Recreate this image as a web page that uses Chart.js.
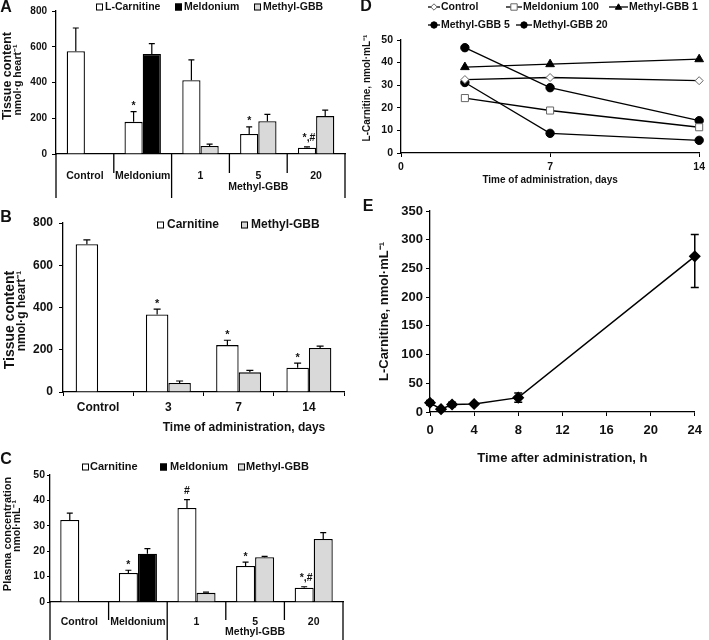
<!DOCTYPE html>
<html><head><meta charset="utf-8">
<script src="https://cdn.jsdelivr.net/npm/chart.js@4.4.1/dist/chart.umd.min.js"></script>
<style>
html,body{margin:0;padding:0;background:#fff;}
#wrap{position:relative;width:709px;height:640px;overflow:hidden;background:#fff;}
canvas{position:absolute;}
</style></head><body>
<div id="wrap">
<canvas id="cA" width="360" height="198" style="left:0;top:0"></canvas>
<canvas id="cB" width="360" height="242" style="left:0;top:198px"></canvas>
<canvas id="cC" width="360" height="200" style="left:0;top:440px"></canvas>
<canvas id="cD" width="349" height="198" style="left:360px;top:0"></canvas>
<canvas id="cE" width="349" height="272" style="left:360px;top:198px"></canvas>
</div>
<script>
// ---------- DATA ----------
// Panel A: tissue content (nmol·g heart^-1)
const aCategories = ['Control', 'Meldonium', '1', '5', '20'];
const aCarnitine = [575, 180, 413, 112, 35];
const aCarnitineErr = [130, 57, 114, 40, 5];
const aMeldonium = [null, 560, null, null, null];
const aMeldoniumErr = [null, 57, null, null, null];
const aMethylGBB = [null, null, 45, 183, 212];
const aMethylGBBErr = [null, null, 10, 39, 33];
const aMarks = ['', '*', '', '*', '*,#'];

// Panel B: tissue content over time
const bCategories = ['Control', '3', '7', '14'];
const bCarnitine = [700, 367, 222, 115];
const bCarnitineErr = [20, 25, 23, 22];
const bMethylGBB = [null, 43, 93, 208];
const bMethylGBBErr = [null, 9, 9, 9];
const bMarks = ['', '*', '*', '*'];

// Panel C: plasma concentration (nmol·mL^-1)
const cCategories = ['Control', 'Meldonium', '1', '5', '20'];
const cCarnitine = [32.3, 11.4, 37, 14.2, 5.6];
const cCarnitineErr = [2.7, 1.1, 3.3, 1.5, 0.4];
const cMeldonium = [null, 19, null, null, null];
const cMeldoniumErr = [null, 2, null, null, null];
const cMethylGBB = [null, null, 3.6, 17.6, 24.8];
const cMethylGBBErr = [null, null, 0.3, 0.4, 2.5];
const cMarks = ['', '*', '#', '*', '*,#'];

// Panel D: L-carnitine vs days
const dDays = [3, 7, 14];
const dControl = [32.5, 33.4, 32];
const dMeldonium100 = [24.3, 18.8, 11.4];
const dMethylGBB1 = [38, 39.3, 41.5];
const dMethylGBB5 = [46.6, 28.9, 14.3];
const dMethylGBB20 = [31.2, 8.7, 5.6];

// Panel E: L-carnitine vs hours
const eHours = [0, 1, 2, 4, 8, 24];
const eCarnitine = [16, 5, 13, 14, 25, 271];
const eErrUp = [4, 2, 4, 2, 8, 38];
const eErrDown = [4, 2, 4, 2, 8, 54];

// ---------- STYLE / HELPERS ----------
const FONT = "'Liberation Sans', Arial, Helvetica, sans-serif";
const INK = '#111';
const GRAY = '#d9d9d9';
Chart.defaults.font.family = FONT;
Chart.defaults.color = INK;
Chart.defaults.animation = false;

function bold(size) { return { family: FONT, size: size, weight: 'bold' }; }

function marker(ctx, style, x, y, r, fill, stroke) {
  ctx.beginPath();
  if (style === 'circle') ctx.arc(x, y, r, 0, Math.PI * 2);
  else if (style === 'rect') ctx.rect(x - r, y - r, 2 * r, 2 * r);
  else if (style === 'rectRot') { ctx.moveTo(x, y - r); ctx.lineTo(x + r, y); ctx.lineTo(x, y + r); ctx.lineTo(x - r, y); ctx.closePath(); }
  else if (style === 'triangle') { ctx.moveTo(x, y - r); ctx.lineTo(x + r, y + r * 0.7); ctx.lineTo(x - r, y + r * 0.7); ctx.closePath(); }
  ctx.fillStyle = fill; ctx.fill();
  ctx.strokeStyle = stroke; ctx.lineWidth = 1; ctx.stroke();
}

const decor = {
  id: 'decor',
  afterDatasetsDraw(chart, args, o) {
    const ctx = chart.ctx, ys = chart.scales.y;
    ctx.save();
    (o.errors || []).forEach(e => {
      const ds = chart.data.datasets[e.ds];
      const meta = chart.getDatasetMeta(e.ds);
      meta.data.forEach((el, i) => {
        const raw = ds.data[i];
        const v = (raw !== null && typeof raw === 'object') ? raw.y : raw;
        if (v === null || v === undefined) return;
        const x = el.x;
        const y0 = ys.getPixelForValue(v);
        let top = y0;
        ctx.strokeStyle = '#000';
        ctx.lineWidth = e.lw;
        const seg = (val) => {
          const y1 = ys.getPixelForValue(val);
          ctx.beginPath(); ctx.moveTo(x, y0); ctx.lineTo(x, y1);
          ctx.moveTo(x - e.cap, y1); ctx.lineTo(x + e.cap, y1); ctx.stroke();
          return y1;
        };
        if (e.up && e.up[i] !== null && e.up[i] !== undefined) top = seg(v + e.up[i]);
        if (e.down && e.down[i] !== null && e.down[i] !== undefined) seg(v - e.down[i]);
        if (e.marks && e.marks[i]) {
          const m = e.marks[i];
          ctx.fillStyle = INK; ctx.font = 'bold ' + e.markSize + 'px ' + FONT;
          ctx.textAlign = 'center'; ctx.textBaseline = 'alphabetic';
          ctx.fillText(m, x + (m.length > 1 ? 2 : 0), top - (m.indexOf('#') >= 0 ? 6 : 2.5));
        }
      });
    });
    ctx.restore();
  },
  afterDraw(chart, args, o) {
    const ctx = chart.ctx;
    ctx.save();
    if (o.dividers) {
      const xs = chart.scales.x, n = chart.data.labels.length, d = o.dividers;
      const bx = [];
      for (let i = 0; i <= n; i++) {
        bx.push(i === 0 ? xs.left : i === n ? xs.right : (xs.getPixelForTick(i - 1) + xs.getPixelForTick(i)) / 2);
      }
      ctx.strokeStyle = '#000'; ctx.lineWidth = 1.3;
      d.long.forEach((lg, i) => {
        ctx.beginPath(); ctx.moveTo(bx[i], xs.top); ctx.lineTo(bx[i], lg ? d.longTo : d.shortTo); ctx.stroke();
      });
      ctx.fillStyle = INK; ctx.font = 'bold ' + d.size + 'px ' + FONT;
      ctx.textAlign = 'center'; ctx.textBaseline = 'middle';
      ctx.fillText(d.group, (bx[d.from] + bx[d.to]) / 2, d.groupY);
    }
    (o.texts || []).forEach(t => {
      ctx.save();
      ctx.translate(t.x, t.y);
      if (t.rot) ctx.rotate(t.rot * Math.PI / 180);
      ctx.fillStyle = INK; ctx.font = 'bold ' + t.size + 'px ' + FONT;
      ctx.textAlign = 'center'; ctx.textBaseline = 'middle';
      ctx.fillText(t.text, 0, 0);
      ctx.restore();
    });
    if (o.legend) {
      const L = o.legend;
      ctx.font = 'bold ' + L.size + 'px ' + FONT;
      ctx.textBaseline = 'middle'; ctx.textAlign = 'left';
      L.items.forEach(it => {
        const ds = chart.data.datasets[it.ds];
        if (L.kind === 'box') {
          ctx.fillStyle = ds.backgroundColor;
          ctx.fillRect(it.x, it.y - L.box / 2, L.box, L.box);
          ctx.strokeStyle = '#000'; ctx.lineWidth = 1;
          ctx.strokeRect(it.x + 0.5, it.y - L.box / 2 + 0.5, L.box - 1, L.box - 1);
          ctx.fillStyle = INK; ctx.fillText(ds.label, it.tx, it.y);
        } else {
          ctx.strokeStyle = ds.borderColor; ctx.lineWidth = ds.borderWidth;
          ctx.beginPath(); ctx.moveTo(it.x, it.y); ctx.lineTo(it.x + it.len, it.y); ctx.stroke();
          marker(ctx, ds.pointStyle, it.x + it.len / 2, it.y, L.r, ds.pointBackgroundColor, ds.pointBorderColor);
          ctx.fillStyle = INK; ctx.fillText(ds.label, it.x + it.len + 1, it.y);
        }
      });
    }
    ctx.restore();
  }
};

function yAxis(min, max, step, size, width, tl, pad) {
  return {
    min: min, max: max,
    ticks: { stepSize: step, font: bold(size), color: INK, padding: pad },
    grid: { display: true, drawOnChartArea: false, drawTicks: true, tickLength: tl, color: '#000', lineWidth: 1 },
    border: { display: true, color: '#000', width: 1.3 },
    afterFit: s => { s.width = width; }
  };
}
function bar(label, data, fill, stack) {
  return { label: label, data: data, backgroundColor: fill, borderColor: '#000', borderWidth: 1.3, stack: stack };
}
const common = { responsive: false, maintainAspectRatio: false, animation: false, devicePixelRatio: 1 };

// ---------- PANEL A ----------
new Chart(document.getElementById('cA'), {
  type: 'bar',
  data: { labels: aCategories, datasets: [
    bar('L-Carnitine', aCarnitine, '#fff', 'left'),
    bar('Meldonium', aMeldonium, '#000', 'right'),
    bar('Methyl-GBB', aMethylGBB, GRAY, 'right')
  ]},
  options: Object.assign({}, common, {
    datasets: { bar: { categoryPercentage: 0.63, barPercentage: 1 } },
    layout: { padding: { top: 5, right: 15, bottom: 0, left: 0 } },
    scales: {
      x: { ticks: { font: bold(10.5), color: INK, padding: 8, autoSkip: false, maxRotation: 0 },
           grid: { display: false }, border: { display: true, color: '#000', width: 1.3 },
           afterFit: s => { s.height = 44; } },
      y: yAxis(0, 800, 200, 10, 56, 4, 5)
    },
    plugins: {
      legend: { display: false }, tooltip: { enabled: false },
      decor: {
        errors: [
          { ds: 0, up: aCarnitineErr, cap: 3, lw: 1.2, marks: aMarks, markSize: 10.5 },
          { ds: 1, up: aMeldoniumErr, cap: 3, lw: 1.2 },
          { ds: 2, up: aMethylGBBErr, cap: 3, lw: 1.2 }
        ],
        dividers: { long: [true, false, true, false, false, true], shortTo: 173, longTo: 198,
                    group: 'Methyl-GBB', from: 2, to: 5, groupY: 187, size: 10.5 },
        texts: [
          { text: 'A', x: 6, y: 8, size: 16 },
          { text: 'Tissue content', x: 8, y: 76, size: 12.5, rot: -90 },
          { text: 'nmol·g heart⁻¹', x: 18, y: 80, size: 10.5, rot: -90 }
        ],
        legend: { kind: 'box', size: 10.5, box: 7, items: [
          { ds: 0, x: 96, tx: 105, y: 7 }, { ds: 1, x: 175, tx: 184, y: 7 }, { ds: 2, x: 254, tx: 263, y: 7 }
        ]}
      }
    }
  }),
  plugins: [decor]
});

// ---------- PANEL B ----------
new Chart(document.getElementById('cB'), {
  type: 'bar',
  data: { labels: bCategories, datasets: [
    bar('Carnitine', bCarnitine, '#fff', 'left'),
    bar('Methyl-GBB', bMethylGBB, GRAY, 'right')
  ]},
  options: Object.assign({}, common, {
    datasets: { bar: { categoryPercentage: 0.64, barPercentage: 1 } },
    layout: { padding: { top: 25, right: 16, bottom: 0, left: 0 } },
    scales: {
      x: { ticks: { font: bold(12), color: INK, padding: 4, autoSkip: false, maxRotation: 0 },
           grid: { display: true, offset: true, drawOnChartArea: false, drawTicks: true, tickLength: 4, color: '#000' },
           border: { display: true, color: '#000', width: 1.3 },
           afterFit: s => { s.height = 48; } },
      y: yAxis(0, 800, 200, 12, 63, 4, 6)
    },
    plugins: {
      legend: { display: false }, tooltip: { enabled: false },
      decor: {
        errors: [
          { ds: 0, up: bCarnitineErr, cap: 3.5, lw: 1.2, marks: bMarks, markSize: 11 },
          { ds: 1, up: bMethylGBBErr, cap: 3.5, lw: 1.2 }
        ],
        texts: [
          { text: 'B', x: 6, y: 20, size: 16 },
          { text: 'Tissue content', x: 10, y: 122, size: 14, rot: -90 },
          { text: 'nmol·g heart⁻¹', x: 21.5, y: 113, size: 12, rot: -90 },
          { text: 'Time of administration, days', x: 244, y: 230, size: 12 }
        ],
        legend: { kind: 'box', size: 12, box: 7, items: [
          { ds: 0, x: 157, tx: 167, y: 27 }, { ds: 1, x: 241, tx: 251, y: 27 }
        ]}
      }
    }
  }),
  plugins: [decor]
});

// ---------- PANEL C ----------
new Chart(document.getElementById('cC'), {
  type: 'bar',
  data: { labels: cCategories, datasets: [
    bar('Carnitine', cCarnitine, '#fff', 'left'),
    bar('Meldonium', cMeldonium, '#000', 'right'),
    bar('Methyl-GBB', cMethylGBB, GRAY, 'right')
  ]},
  options: Object.assign({}, common, {
    datasets: { bar: { categoryPercentage: 0.65, barPercentage: 1 } },
    layout: { padding: { top: 35, right: 17, bottom: 0, left: 0 } },
    scales: {
      x: { ticks: { font: bold(10.5), color: INK, padding: 6, autoSkip: false, maxRotation: 0 },
           grid: { display: false }, border: { display: true, color: '#000', width: 1.3 },
           afterFit: s => { s.height = 38; } },
      y: yAxis(0, 50, 10, 10.5, 50, 3, 2)
    },
    plugins: {
      legend: { display: false }, tooltip: { enabled: false },
      decor: {
        errors: [
          { ds: 0, up: cCarnitineErr, cap: 3, lw: 1.2, marks: cMarks, markSize: 10.5 },
          { ds: 1, up: cMeldoniumErr, cap: 3, lw: 1.2 },
          { ds: 2, up: cMethylGBBErr, cap: 3, lw: 1.2 }
        ],
        dividers: { long: [true, false, true, false, false, true], shortTo: 180, longTo: 200,
                    group: 'Methyl-GBB', from: 2, to: 5, groupY: 192, size: 10.5 },
        texts: [
          { text: 'C', x: 6, y: 20, size: 16 },
          { text: 'Plasma concentration', x: 7.5, y: 94, size: 11, rot: -90 },
          { text: 'nmol·mL⁻¹', x: 17.5, y: 86, size: 10.5, rot: -90 }
        ],
        legend: { kind: 'box', size: 11, box: 7, items: [
          { ds: 0, x: 82, tx: 90, y: 27 }, { ds: 1, x: 160, tx: 170, y: 27 }, { ds: 2, x: 238, tx: 246, y: 27 }
        ]}
      }
    }
  }),
  plugins: [decor]
});

// ---------- PANEL D ----------
function pts(xs, ys) { return xs.map((x, i) => ({ x: x, y: ys[i] })); }
function lineDs(label, data, style, r, fill, stroke) {
  return { label: label, data: data, borderColor: '#000', borderWidth: 1.3, tension: 0, clip: false,
           pointStyle: style, pointRadius: r, pointBackgroundColor: fill, pointBorderColor: stroke, pointBorderWidth: 1 };
}
new Chart(document.getElementById('cD'), {
  type: 'line',
  data: { datasets: [
    lineDs('Control', pts(dDays, dControl), 'rectRot', 4, '#fff', '#666'),
    lineDs('Meldonium 100', pts(dDays, dMeldonium100), 'rect', 5, '#fff', '#666'),
    lineDs('Methyl-GBB 1', pts(dDays, dMethylGBB1), 'triangle', 5, '#000', '#000'),
    lineDs('Methyl-GBB 5', pts(dDays, dMethylGBB5), 'circle', 4.2, '#000', '#000'),
    lineDs('Methyl-GBB 20', pts(dDays, dMethylGBB20), 'circle', 4.2, '#000', '#000')
  ]},
  options: Object.assign({}, common, {
    layout: { padding: { top: 40, right: 6, bottom: 0, left: 0 } },
    scales: {
      x: { type: 'linear', min: 0, max: 14,
           ticks: { stepSize: 7, font: bold(10.5), color: INK, padding: 4, autoSkip: false, maxRotation: 0 },
           grid: { display: true, drawOnChartArea: false, drawTicks: true, tickLength: 4, color: '#000' },
           border: { display: true, color: '#000', width: 1.3 },
           title: { display: true, text: 'Time of administration, days', font: bold(10), color: INK, padding: { top: 0, bottom: 12 } },
           afterFit: s => { s.height = 45; } },
      y: yAxis(0, 50, 10, 10.5, 41, 4, 4)
    },
    plugins: {
      legend: { display: false }, tooltip: { enabled: false },
      decor: {
        texts: [
          { text: 'D', x: 6, y: 7, size: 16 },
          { text: 'L-Carnitine, nmol·mL⁻¹', x: 7, y: 88, size: 10, rot: -90 }
        ],
        legend: { kind: 'line', size: 10.5, r: 3.2, items: [
          { ds: 0, x: 68, len: 12, y: 7 }, { ds: 1, x: 146, len: 16, y: 7 }, { ds: 2, x: 249, len: 19, y: 7 },
          { ds: 3, x: 68, len: 12, y: 25 }, { ds: 4, x: 156, len: 16, y: 25 }
        ]}
      }
    }
  }),
  plugins: [decor]
});

// ---------- PANEL E ----------
new Chart(document.getElementById('cE'), {
  type: 'line',
  data: { datasets: [
    { label: 'L-Carnitine', data: pts(eHours, eCarnitine), borderColor: '#000', borderWidth: 1.5, tension: 0, clip: false,
      pointStyle: 'rectRot', pointRadius: 5, pointBackgroundColor: '#000', pointBorderColor: '#000' }
  ]},
  options: Object.assign({}, common, {
    layout: { padding: { top: 13, right: 10, bottom: 0, left: 0 } },
    scales: {
      x: { type: 'linear', min: 0, max: 24,
           ticks: { stepSize: 4, font: bold(13), color: INK, padding: 7, autoSkip: false, maxRotation: 0 },
           grid: { display: true, drawOnChartArea: false, drawTicks: true, tickLength: 4, color: '#000' },
           border: { display: true, color: '#000', width: 1.3 },
           title: { display: true, text: 'Time after administration, h', font: bold(13), color: INK, padding: { top: 0, bottom: 4 } },
           afterFit: s => { s.height = 58; } },
      y: Object.assign(yAxis(0, 350, 50, 13, 70, 4, 3), {
           title: { display: true, text: 'L-Carnitine, nmol·mL⁻¹', font: bold(13), color: INK, padding: { top: 17, bottom: 0 } } })
    },
    plugins: {
      legend: { display: false }, tooltip: { enabled: false },
      decor: {
        errors: [ { ds: 0, up: eErrUp, down: eErrDown, cap: 4, lw: 1.5 } ],
        texts: [ { text: 'E', x: 8, y: 9, size: 16 } ]
      }
    }
  }),
  plugins: [decor]
});
</script>
</body></html>
